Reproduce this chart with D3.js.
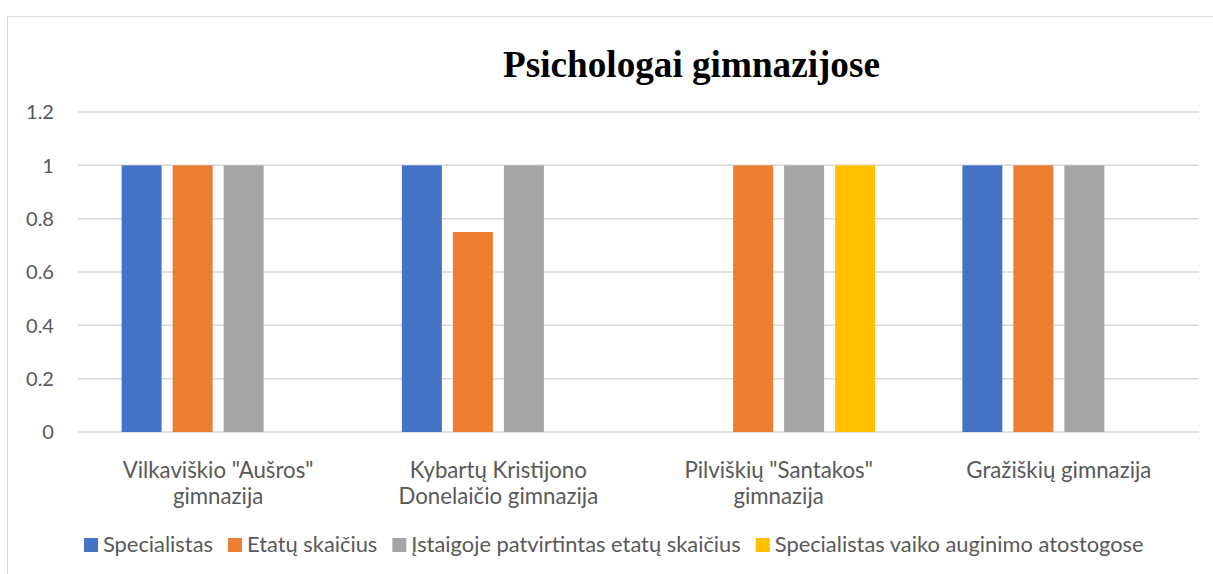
<!DOCTYPE html>
<html>
<head>
<meta charset="utf-8">
<script src="https://cdn.jsdelivr.net/npm/d3@7"></script>
<style>
  body { margin: 0; background: #fff; }
  svg { display: block; }
  text { font-family: Lato, "Open Sans", sans-serif; fill: #595959; }
</style>
</head>
<body>
<div id="chart"></div>
<script>
var categories = [
  ['Vilkaviškio "Aušros"', 'gimnazija'],
  ['Kybartų Kristijono', 'Donelaičio gimnazija'],
  ['Pilviškių "Santakos"', 'gimnazija'],
  ['Gražiškių gimnazija']
];
var seriesNames = ['Specialistas', 'Etatų skaičius', 'Įstaigoje patvirtintas etatų skaičius', 'Specialistas vaiko auginimo atostogose'];
var specialistas = [1, 1, 0, 1];
var etatuSkaicius = [1, 0.75, 1, 1];
var patvirtintas = [1, 1, 1, 1];
var atostogose = [0, 0, 1, 0];
var yTicks = [0, 0.2, 0.4, 0.6, 0.8, 1, 1.2];
var colors = ['#4472c4', '#ed7d31', '#a5a5a5', '#ffc000'];

var series = [specialistas, etatuSkaicius, patvirtintas, atostogose];

var svgWidth = 1213, svgHeight = 574;
var margin = {top: 112, right: 14, bottom: 142, left: 78};
var width = svgWidth - margin.left - margin.right;
var height = svgHeight - margin.top - margin.bottom;

var svg = d3.select('#chart').append('svg')
  .attr('width', svgWidth)
  .attr('height', svgHeight);

// pick a font size so a sample string gets the width it has in the original
function fitSize(str, target, family, weight) {
  var t = svg.append('text')
    .style('font-size', '20px')
    .style('font-family', family || null)
    .style('font-weight', weight || null)
    .text(str);
  var w = t.node().getComputedTextLength();
  t.remove();
  return 20 * target / w;
}

var tickSize = fitSize('1.2', 28);
var catSize = fitSize('Vilkaviškio "Aušros"', 191);
var legendSize = fitSize('Specialistas vaiko auginimo atostogose', 369);
var titleFont = '"Liberation Serif", "Times New Roman", serif';
var titleSize = fitSize('Psichologai gimnazijose', 377, titleFont, 'bold');

// chart frame (cut by the page edge on the right and bottom)
svg.append('path')
  .attr('d', 'M7.5,' + svgHeight + 'V16.5H' + svgWidth)
  .attr('fill', 'none')
  .attr('stroke', '#d9d9d9')
  .attr('stroke-width', 1);

svg.append('text')
  .attr('x', 691.5)
  .attr('y', 77)
  .attr('text-anchor', 'middle')
  .style('font-family', titleFont)
  .style('font-weight', 'bold')
  .style('font-size', titleSize + 'px')
  .style('fill', '#000')
  .text('Psichologai gimnazijose');

var g = svg.append('g')
  .attr('transform', 'translate(' + margin.left + ',' + margin.top + ')');

var x0 = d3.scaleBand()
  .domain(d3.range(categories.length))
  .range([0, width])
  .padding(0);

var x1 = d3.scaleBand()
  .domain(d3.range(series.length))
  .range([0, x0.bandwidth()])
  .paddingInner(0.216)
  .paddingOuter(0.855);

var y = d3.scaleLinear()
  .domain([0, 1.2])
  .range([height, 0]);

// gridlines
g.append('g')
  .selectAll('line')
  .data(yTicks)
  .enter().append('line')
  .attr('x1', 0)
  .attr('x2', width)
  .attr('y1', function(d) { return y(d); })
  .attr('y2', function(d) { return y(d); })
  .attr('stroke', '#d9d9d9')
  .attr('stroke-width', 1.5);

// y axis labels
g.append('g')
  .selectAll('text')
  .data(yTicks)
  .enter().append('text')
  .attr('x', -24)
  .attr('y', function(d) { return y(d); })
  .attr('dy', '0.36em')
  .attr('text-anchor', 'end')
  .style('font-size', tickSize + 'px')
  .text(function(d) { return d; });

// bars
var groups = g.selectAll('.group')
  .data(categories)
  .enter().append('g')
  .attr('class', 'group')
  .attr('transform', function(d, i) { return 'translate(' + x0(i) + ',0)'; });

groups.selectAll('rect')
  .data(function(d, i) {
    return series.map(function(s, j) { return {key: j, value: s[i]}; });
  })
  .enter().filter(function(d) { return d.value > 0; })
  .append('rect')
  .attr('x', function(d) { return x1(d.key); })
  .attr('width', x1.bandwidth())
  .attr('y', function(d) { return y(d.value); })
  .attr('height', function(d) { return height - y(d.value); })
  .attr('fill', function(d) { return colors[d.key]; });

// category labels
groups.append('text')
  .attr('x', x0.bandwidth() / 2)
  .attr('y', height + 46)
  .attr('text-anchor', 'middle')
  .style('font-size', catSize + 'px')
  .selectAll('tspan')
  .data(function(d) { return d; })
  .enter().append('tspan')
  .attr('x', x0.bandwidth() / 2)
  .attr('dy', function(d, i) { return i === 0 ? 0 : 26; })
  .text(function(d) { return d; });

// legend
var legend = svg.append('g')
  .attr('transform', 'translate(84,552)');

var offset = 0;
seriesNames.forEach(function(name, i) {
  var item = legend.append('g').attr('transform', 'translate(' + offset + ',0)');
  item.append('rect')
    .attr('x', 0)
    .attr('y', -14)
    .attr('width', 14)
    .attr('height', 14)
    .attr('fill', colors[i]);
  var t = item.append('text')
    .attr('x', 19)
    .attr('y', 0)
    .style('font-size', legendSize + 'px')
    .text(name);
  offset += 19 + t.node().getComputedTextLength() + 15;
});
</script>
</body>
</html>
